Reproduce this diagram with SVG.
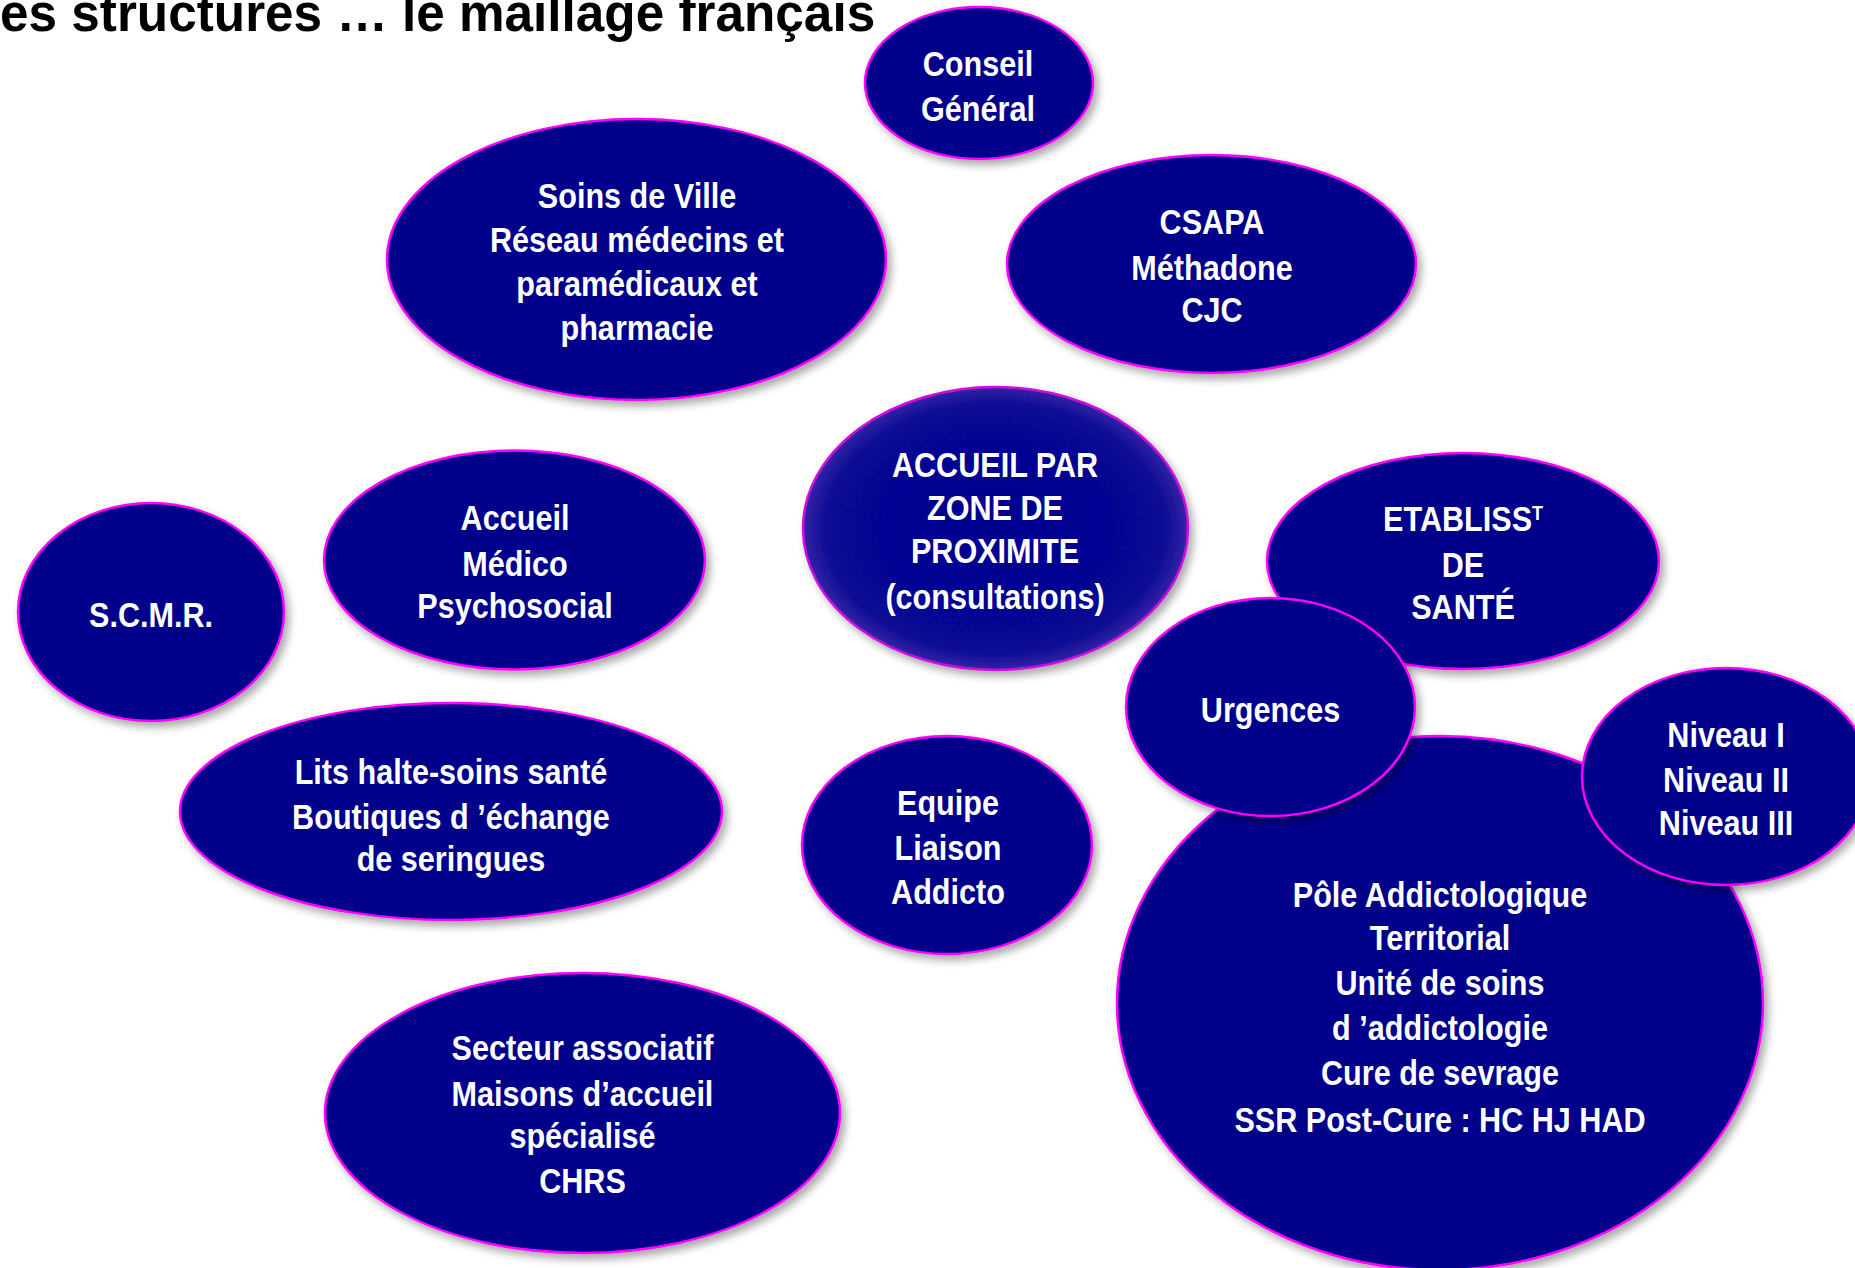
<svg xmlns="http://www.w3.org/2000/svg" width="1855" height="1268" viewBox="0 0 1855 1268">
<defs>
<filter id="sh" x="-10%" y="-10%" width="125%" height="130%">
<feDropShadow dx="4" dy="5" stdDeviation="4" flood-color="#000" flood-opacity="0.35"/>
</filter>
<radialGradient id="glow" cx="50%" cy="50%" r="50%">
<stop offset="0" stop-color="#04048f"/>
<stop offset="0.86" stop-color="#070793"/>
<stop offset="1" stop-color="#3424a4"/>
</radialGradient>
</defs>
<style>
.n{fill:#00008b;stroke:#ff00ff;stroke-width:2.5;filter:url(#sh)}
.t{font-family:"Liberation Sans",Arial,sans-serif;font-weight:bold;font-size:36px;fill:#fff;text-anchor:middle}
.title{font-family:"Liberation Sans",Arial,sans-serif;font-weight:bold;font-size:54px;fill:#000}
</style>
<rect width="1855" height="1268" fill="#fff"/>
<g id="title" transform="translate(0,0) scale(0.95,1)"><text class="title" x="0" y="31">es structures … le maillage français</text></g>

<g id="conseil-general">
<ellipse class="n" cx="979" cy="83" rx="114" ry="76"/>
<g transform="translate(978,0) scale(0.85,1)"><text class="t" x="0" y="76">Conseil</text><text class="t" x="0" y="121">Général</text></g>
</g>

<g id="soins-de-ville">
<ellipse class="n" cx="636.5" cy="259.5" rx="249.5" ry="140.5"/>
<g transform="translate(637,0) scale(0.85,1)"><text class="t" x="0" y="208">Soins de Ville</text><text class="t" x="0" y="252">Réseau médecins et</text><text class="t" x="0" y="296">paramédicaux et</text><text class="t" x="0" y="340">pharmacie</text></g>
</g>

<g id="csapa">
<ellipse class="n" cx="1211.5" cy="264" rx="204.5" ry="109"/>
<g transform="translate(1212,0) scale(0.85,1)"><text class="t" x="0" y="234">CSAPA</text><text class="t" x="0" y="280">Méthadone</text><text class="t" x="0" y="322">CJC</text></g>
</g>

<g id="accueil-proximite">
<ellipse cx="995.5" cy="528.5" rx="192.5" ry="141.5" fill="url(#glow)" stroke="#d010e0" stroke-width="2.5" filter="url(#sh)"/>
<g transform="translate(995,0) scale(0.85,1)"><text class="t" x="0" y="477">ACCUEIL PAR</text><text class="t" x="0" y="520">ZONE DE</text><text class="t" x="0" y="563">PROXIMITE</text><text class="t" x="0" y="609">(consultations)</text></g>
</g>

<g id="scmr">
<ellipse class="n" cx="151" cy="612" rx="133" ry="109"/>
<g transform="translate(151,0) scale(0.85,1)"><text class="t" x="0" y="627">S.C.M.R.</text></g>
</g>

<g id="accueil-medico">
<ellipse class="n" cx="514.5" cy="560" rx="190.5" ry="109.5"/>
<g transform="translate(515,0) scale(0.85,1)"><text class="t" x="0" y="530">Accueil</text><text class="t" x="0" y="576">Médico</text><text class="t" x="0" y="618">Psychosocial</text></g>
</g>

<g id="etablissement">
<ellipse class="n" cx="1463" cy="561" rx="196" ry="108"/>
<g transform="translate(1463,0) scale(0.85,1)"><text class="t" x="0" y="531">ETABLISS<tspan font-size="21" dy="-11">T</tspan></text><text class="t" x="0" y="577">DE</text><text class="t" x="0" y="619">SANTÉ</text></g>
</g>

<g id="pole-addictologique">
<ellipse class="n" cx="1440" cy="1003" rx="323" ry="267"/>
<g transform="translate(1440,0) scale(0.85,1)"><text class="t" x="0" y="907">Pôle Addictologique</text><text class="t" x="0" y="950">Territorial</text><text class="t" x="0" y="995">Unité de soins</text><text class="t" x="0" y="1040">d ’addictologie</text><text class="t" x="0" y="1085">Cure de sevrage</text><text class="t" x="0" y="1132">SSR Post-Cure : HC HJ HAD</text></g>
</g>

<g id="urgences">
<ellipse class="n" cx="1270.5" cy="707" rx="144.5" ry="109"/>
<g transform="translate(1270.5,0) scale(0.85,1)"><text class="t" x="0" y="722">Urgences</text></g>
</g>

<g id="niveaux">
<ellipse class="n" cx="1726" cy="776.5" rx="144" ry="108.5"/>
<g transform="translate(1726,0) scale(0.85,1)"><text class="t" x="0" y="747">Niveau I</text><text class="t" x="0" y="792">Niveau II</text><text class="t" x="0" y="835">Niveau III</text></g>
</g>

<g id="lits-halte-soins">
<ellipse class="n" cx="451" cy="811.5" rx="271" ry="108.5"/>
<g transform="translate(451,0) scale(0.85,1)"><text class="t" x="0" y="784">Lits halte-soins santé</text><text class="t" x="0" y="829">Boutiques d ’échange</text><text class="t" x="0" y="871">de seringues</text></g>
</g>

<g id="equipe-liaison">
<ellipse class="n" cx="947" cy="845" rx="145" ry="109"/>
<g transform="translate(948,0) scale(0.85,1)"><text class="t" x="0" y="815">Equipe</text><text class="t" x="0" y="860">Liaison</text><text class="t" x="0" y="904">Addicto</text></g>
</g>

<g id="secteur-associatif">
<ellipse class="n" cx="582.5" cy="1113" rx="257.5" ry="140"/>
<g transform="translate(582.5,0) scale(0.85,1)"><text class="t" x="0" y="1060">Secteur associatif</text><text class="t" x="0" y="1106">Maisons d’accueil</text><text class="t" x="0" y="1148">spécialisé</text><text class="t" x="0" y="1193">CHRS</text></g>
</g>
</svg>
